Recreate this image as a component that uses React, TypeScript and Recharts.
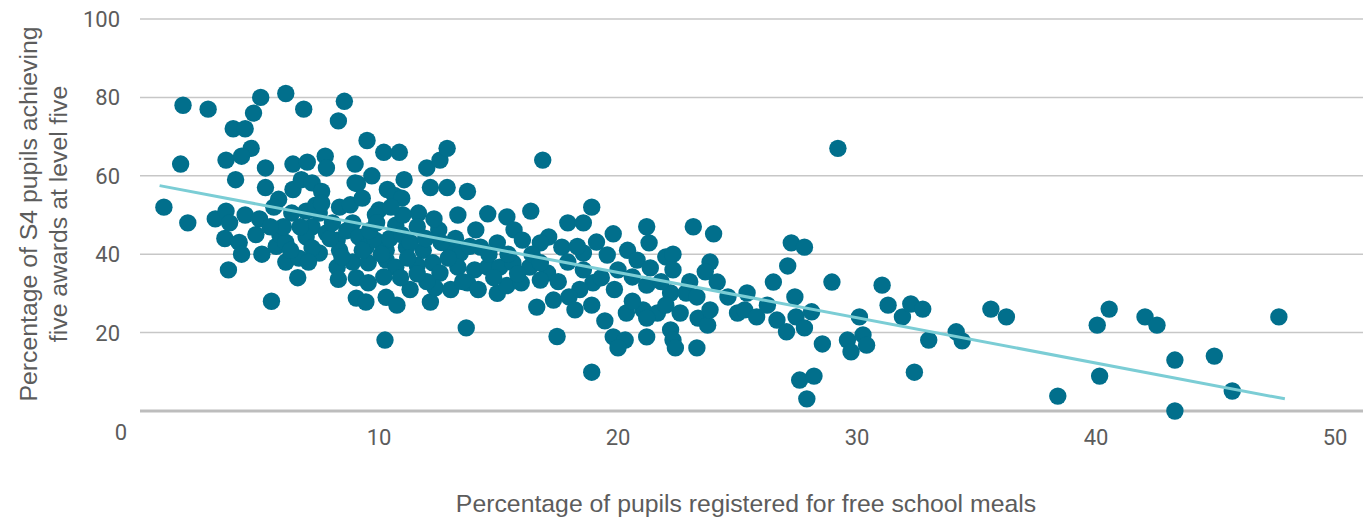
import { ScatterChart, Scatter, XAxis, YAxis, CartesianGrid, ReferenceLine } from "recharts"

// % registered for free school meals, % of S4 pupils with five awards at level five
const schools: [number, number][] = [
  [1.0, 52], [1.7, 63], [1.8, 78], [2.0, 48], [2.85, 77], [3.15, 49], [3.6, 64], [3.6, 51],
  [3.75, 48], [3.55, 44], [3.7, 36], [3.9, 72], [4.4, 72], [4.75, 76], [4.65, 67], [4.25, 65],
  [4.0, 59], [5.05, 80], [5.25, 62], [5.25, 57], [5.5, 28], [4.4, 50], [5.0, 49], [4.15, 43],
  [4.25, 40], [4.85, 45], [5.1, 40], [5.7, 42], [5.85, 45], [6.1, 43], [6.1, 38], [6.65, 39],
  [6.35, 50.5], [6.95, 51], [7.5, 50.5], [7.2, 47], [7.8, 45.4], [6.95, 44.4], [7.5, 40.3],
  [7.2, 41.6], [8.25, 43.6], [8.35, 41], [8.25, 36.7], [8.3, 33.6], [8.9, 38], [9.05, 34],
  [9.05, 28.8], [9.0, 58.2], [8.9, 48], [6.1, 81], [6.85, 77], [8.55, 79], [8.3, 74], [6.4, 63],
  [7.0, 63.5], [7.75, 65], [7.8, 62], [9.0, 63], [5.8, 54], [6.4, 56.5], [6.75, 59], [7.2, 58.2],
  [7.6, 56], [8.35, 52], [8.8, 52.6], [6.6, 34], [7.95, 44], [6.7, 47], [6.0, 47], [7.35, 52.5],
  [8.65, 46], [6.3, 41], [7.05, 38], [5.45, 47], [8.05, 48], [5.6, 52], [7.6, 53],
  [9.5, 69], [10.2, 66], [10.85, 66], [9.7, 60], [11.05, 59], [9.1, 58], [12.0, 62], [12.55, 64],
  [12.85, 67], [12.15, 57], [12.85, 57], [13.7, 56], [16.85, 64], [10.35, 56.5], [10.65, 55],
  [10.95, 54.3], [9.3, 54.3], [10.0, 51.3], [9.85, 50], [11.65, 50.5], [13.3, 50], [14.55, 50.3],
  [15.35, 49.5], [16.35, 51], [15.65, 46.2], [17.1, 44.4], [10.7, 47.4], [11.6, 47], [12.5, 46.2],
  [14.05, 46.2], [14.95, 42.9], [16.0, 43.6], [16.75, 42.9], [9.15, 44.4], [9.45, 41.8],
  [9.85, 43.6], [10.3, 41], [11.15, 41.8], [11.85, 41], [13.0, 41.8], [13.4, 40.3], [14.25, 41.8],
  [8.45, 39.3], [9.55, 37.8], [10.3, 38.5], [10.7, 36.7], [11.6, 37.2], [12.25, 37.8],
  [12.55, 35.2], [13.3, 36.7], [14.0, 36], [14.55, 36.7], [15.05, 36.7], [15.6, 37.8],
  [16.3, 36.7], [17.05, 35.2], [9.55, 32.7], [10.2, 34.2], [10.3, 29], [10.75, 27], [9.45, 27.8],
  [11.3, 31], [12.15, 27.8], [12.35, 31.4], [13.0, 31], [13.7, 32.7], [14.15, 31], [14.95, 30],
  [15.35, 32], [15.95, 32.7], [16.75, 33.4], [16.6, 26.5], [17.3, 28.3], [13.65, 21.2],
  [10.25, 18.1], [17.45, 19], [9.6, 46], [9.9, 48], [10.45, 44], [10.95, 45], [11.3, 43],
  [11.95, 44], [12.6, 43], [13.2, 44], [13.8, 42], [12.9, 39], [11.2, 39], [10.1, 40], [9.3, 41],
  [14.6, 40], [15.4, 40], [16.4, 40], [14.8, 34], [15.8, 35], [13.5, 33], [12.0, 33], [10.9, 34],
  [11.6, 35], [11.0, 50], [12.3, 49], [10.5, 52],
  [18.9, 52], [17.9, 48], [18.55, 48], [19.8, 45.2], [21.2, 47], [21.3, 42.9], [23.15, 47],
  [24.0, 45.2], [17.65, 41.8], [19.1, 43.1], [18.55, 40.3], [19.55, 39.8], [20.4, 41], [20.8, 38.5],
  [21.35, 36.5], [22.0, 39.3], [22.3, 40], [22.3, 36], [23.85, 38], [23.65, 35.5], [24.15, 32.9],
  [25.4, 30.1], [16.75, 37.8], [17.9, 38], [18.55, 36], [18.95, 32.7], [18.4, 31], [17.95, 29.1],
  [19.85, 31], [20.6, 34.2], [21.2, 32.1], [22.2, 30.1], [22.85, 30.1], [23.3, 29.1], [24.6, 29.1],
  [18.2, 25.8], [18.9, 27], [19.45, 23], [20.35, 25], [21.05, 25.8], [21.65, 25], [21.2, 23.7],
  [22.6, 25], [23.35, 23.7], [23.75, 21.9], [23.85, 25.8], [25.0, 25], [25.3, 25.8], [25.8, 24],
  [19.8, 18.9], [20.3, 18.1], [20.0, 16.1], [21.2, 18.9], [22.2, 20.7], [22.3, 18.1], [22.4, 16.1],
  [23.3, 16.1], [18.9, 9.9], [20.0, 36], [19.3, 34], [21.8, 33], [17.5, 33], [18.3, 42], [20.6, 28],
  [22.0, 27], [23.0, 33],
  [29.2, 67], [27.25, 42.9], [27.8, 41.8], [27.1, 37], [26.5, 32.9], [28.95, 32.9], [31.05, 32.1],
  [27.4, 29.1], [26.25, 27], [26.65, 23.2], [27.05, 20.2], [27.45, 24], [28.1, 25.3], [27.8, 21.2],
  [28.55, 17.1], [29.6, 18.1], [29.75, 15.1], [30.1, 24], [30.25, 19.4], [30.4, 16.8], [31.3, 27],
  [31.9, 24], [32.25, 27.3], [32.75, 26], [33.0, 18.1], [27.6, 7.9], [28.2, 8.9], [27.9, 3.1],
  [32.4, 9.9],
  [34.15, 20.2], [34.4, 17.9], [35.6, 26], [36.25, 24], [38.4, 3.8], [40.05, 21.9], [40.55, 26],
  [40.15, 8.9], [42.05, 24], [42.55, 21.9], [43.3, 13], [43.3, 0], [44.95, 14], [45.7, 5.1],
  [47.65, 24],
]

// ends of the fitted line as drawn
const trend: [number, number][] = [[0.82, 57.5], [47.9, 3.1]]

const xTicks = [0, 10, 20, 30, 40, 50]
const yTicks = [20, 40, 60, 80, 100]

const xTitle = "Percentage of pupils registered for free school meals"
const yTitle = ["Percentage of S4 pupils achieving", "five awards at level five"]

const DOT = "#016f8c"
const TREND = "#7bcdd5"
const TEXT = "#5c5c5c"
const FONT = "Roboto, sans-serif"
const TITLE_FONT = "'Liberation Sans', Arial, sans-serif"

const points = schools.map(([fsm, s4]) => ({ fsm, s4 }))
const trendPoints = trend.map(([fsm, s4]) => ({ fsm, s4 }))

// eslint-disable-next-line @typescript-eslint/no-explicit-any
const YTick = (props: any) => (
  <text x={120} y={props.y} dy="0.36em" textAnchor="end" fill={TEXT} fontSize={22} fontFamily={FONT}>
    {props.payload.value}
  </text>
)

// eslint-disable-next-line @typescript-eslint/no-explicit-any
const XTick = (props: any) => {
  const v = props.payload.value
  const x = v === 0 ? props.x - 19 : props.x
  const y = v === 0 ? 432 : 437
  return (
    <text x={x} y={y} dy="0.36em" textAnchor="middle" fill={TEXT} fontSize={22} fontFamily={FONT}>
      {v}
    </text>
  )
}

const XTitle = () => (
  <text x={746} y={503} dy="0.36em" textAnchor="middle" fill={TEXT} fontSize={24.8} fontFamily={TITLE_FONT}>
    {xTitle}
  </text>
)

const YTitle = () => (
  <text
    transform="translate(43, 214) rotate(-90)"
    textAnchor="middle"
    fill={TEXT}
    fontSize={24.8}
    fontFamily={TITLE_FONT}
  >
    <tspan x={0} y={-15} dy="0.36em">{yTitle[0]}</tspan>
    <tspan x={0} y={15} dy="0.36em">{yTitle[1]}</tspan>
  </text>
)

// eslint-disable-next-line @typescript-eslint/no-explicit-any
const Dot = (props: any) => <circle cx={props.cx} cy={props.cy} r={8.7} fill={DOT} />

export default function App() {
  return (
    <div style={{ position: "absolute", left: 0, top: 0, background: "#fff" }}>
      <ScatterChart
        width={1363}
        height={517}
        margin={{ top: 19, right: 0, bottom: 0, left: 0 }}
        style={{ fontFamily: FONT }}
      >
        <CartesianGrid vertical={false} stroke="#c7c7c7" strokeWidth={1.5} />
        <XAxis
          type="number"
          dataKey="fsm"
          domain={[0, 51.17]}
          ticks={xTicks}
          allowDataOverflow
          axisLine={false}
          tickLine={false}
          height={106}
          tick={<XTick />}
          label={<XTitle />}
        />
        <YAxis
          type="number"
          dataKey="s4"
          domain={[0, 100]}
          ticks={yTicks}
          axisLine={false}
          tickLine={false}
          width={140}
          tick={<YTick />}
          label={<YTitle />}
        />
        <ReferenceLine y={0} stroke="#bdbdbd" strokeWidth={3} />
        <Scatter data={points} fill={DOT} shape={<Dot />} isAnimationActive={false} />
        <Scatter
          data={trendPoints}
          line={{ stroke: TREND, strokeWidth: 3 }}
          shape={() => <g />}
          isAnimationActive={false}
        />
      </ScatterChart>
    </div>
  )
}
